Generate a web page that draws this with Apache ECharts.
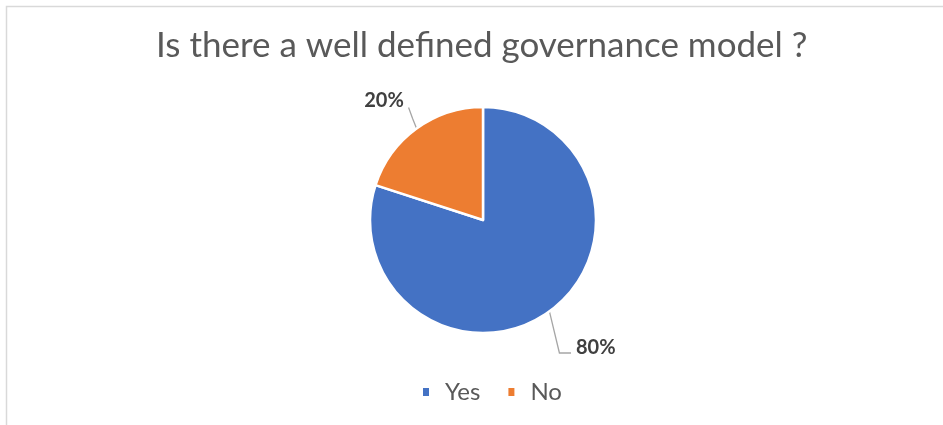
<!DOCTYPE html>
<html>
<head>
<meta charset="utf-8">
<script src="https://cdn.jsdelivr.net/npm/echarts@6/dist/echarts.min.js"></script>
<style>
  html, body { margin: 0; padding: 0; background: #ffffff; }
  #chart { width: 943px; height: 425px; }
</style>
</head>
<body>
<div id="chart"></div>
<script>
// Survey answers and their shares (percent)
const titleText = 'Is there a well defined governance model ?';
const categories = ['Yes', 'No'];
const shares = [80, 20];
const colors = ['#4472C4', '#ED7D31'];

const FONT = 'Lato, "Open Sans", sans-serif';
const CX = 483, CY = 220, R = 113;
const START = 90;

// mid angle (radians, screen y down) of a slice, going clockwise from START
function midAngle(index) {
  const total = shares.reduce((a, b) => a + b, 0);
  let before = 0;
  for (let i = 0; i < index; i++) before += shares[i];
  const deg = START - (before + shares[index] / 2) / total * 360;
  return deg * Math.PI / 180;
}
function edgePoint(index) {
  const a = midAngle(index);
  return [CX + R * Math.cos(a), CY - R * Math.sin(a)];
}

const chart = echarts.init(document.getElementById('chart'), null, { renderer: 'canvas' });

chart.setOption({
  backgroundColor: '#ffffff',
  animation: false,
  graphic: [{
    type: 'rect',
    shape: { x: 6.5, y: 6.5, width: 1000, height: 1000 },
    style: { fill: 'none', stroke: '#d9d9d9', lineWidth: 1.5 },
    silent: true
  }],
  title: {
    text: titleText,
    left: 156,
    top: 28,
    padding: 0,
    textStyle: { fontFamily: FONT, fontSize: 35, fontWeight: 'normal', color: '#595959' }
  },
  legend: {
    data: categories,
    bottom: 21,
    left: 421,
    padding: 0,
    icon: 'rect',
    itemWidth: 8,
    itemHeight: 10,
    itemGap: 26,
    textStyle: { fontFamily: FONT, fontSize: 24, color: '#595959', padding: [0, 0, 4, 10] }
  },
  series: [{
    type: 'pie',
    center: [CX, CY],
    radius: R,
    startAngle: START,
    clockwise: true,
    data: categories.map((name, i) => ({
      name: name,
      value: shares[i],
      itemStyle: { color: colors[i] }
    })),
    itemStyle: { borderColor: '#ffffff', borderWidth: 2.5 },
    label: {
      show: true,
      formatter: '{c}%',
      fontFamily: FONT,
      fontSize: 20,
      fontWeight: 'bold',
      color: '#404040'
    },
    labelLine: {
      show: true,
      lineStyle: { color: '#a6a6a6', width: 1.3 }
    },
    labelLayout: function (params) {
      const p = edgePoint(params.dataIndex);
      if (params.dataIndex === 0) {
        return {
          x: CX + 93, y: CY + 128, align: 'left', verticalAlign: 'middle',
          labelLinePoints: [p, [p[0] + 10, CY + 133], [CX + 88, CY + 133]]
        };
      }
      return {
        x: CX - 99, y: CY - 119, align: 'center', verticalAlign: 'middle',
        labelLinePoints: [p, [p[0] - 4, p[1] - 10], [p[0] - 8, p[1] - 21]]
      };
    }
  }]
});
</script>
</body>
</html>
